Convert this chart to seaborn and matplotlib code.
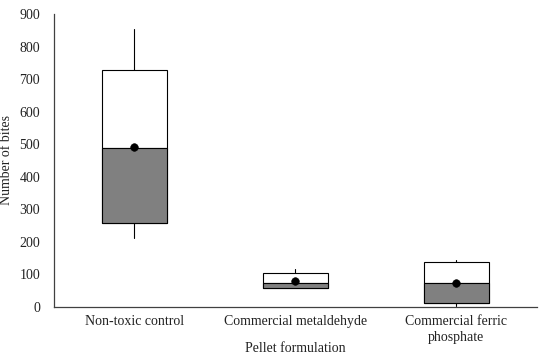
import matplotlib
matplotlib.use("Agg")
import matplotlib.pyplot as plt
import seaborn as sns
import pandas as pd

# values
categories = ["Non-toxic control", "Commercial metaldehyde", "Commercial ferric\nphosphate"]
whisker_low = [211, 57, 3]
q1 = [257, 59, 11]
median = [488, 73, 73]
q3 = [728, 103, 138]
whisker_high = [853, 116, 144]
means = [491, 79, 75]

sns.set_theme(style="white")
plt.rcParams["font.family"] = ["Liberation Serif", "DejaVu Serif"]

fig = plt.figure(figsize=(5.5, 3.58), dpi=100)
ax = fig.add_axes([0.098, 0.1425, 0.878, 0.8185])

stats = []
for i, name in enumerate(categories):
    stats.append({
        "label": name, "whislo": whisker_low[i], "q1": q1[i], "med": median[i],
        "q3": q3[i], "whishi": whisker_high[i], "fliers": [],
    })

pos = list(range(len(categories)))
ax.bxp(stats, positions=pos, widths=0.4, showcaps=False, patch_artist=True,
       boxprops={"facecolor": "white", "edgecolor": "black", "linewidth": 0.8},
       whiskerprops={"color": "black", "linewidth": 0.8},
       medianprops={"color": "black", "linewidth": 0.8})

# grey lower half of each box (Q1 to median)
ax.bar(pos, [m - q for m, q in zip(median, q1)], bottom=q1, width=0.4,
       color="#808080", edgecolor="black", linewidth=0.8, zorder=3)

df = pd.DataFrame({"x": pos, "mean": means})
sns.scatterplot(data=df, x="x", y="mean", color="black", s=30, zorder=5,
                edgecolor="black", ax=ax, legend=False)

ax.set_xlim(-0.5, 2.5)
ax.set_ylim(0, 900)
ax.set_yticks(range(0, 901, 100))
ax.set_xticks(pos)
ax.set_xticklabels(categories, linespacing=1.25)
ax.tick_params(axis="both", length=0, labelsize=10, colors="#222222")
ax.tick_params(axis="y", pad=10)
ax.tick_params(axis="x", pad=6)
for s in ["top", "right"]:
    ax.spines[s].set_visible(False)
for s in ["left", "bottom"]:
    ax.spines[s].set_color("#404040")
    ax.spines[s].set_linewidth(0.9)

ax.set_ylabel("Number of bites", fontsize=10, color="#222222")
ax.yaxis.set_label_coords(-0.085, 0.5)
ax.set_xlabel("Pellet formulation", fontsize=10, color="#222222", va="center")
ax.xaxis.set_label_coords(0.5, -0.143)

fig.savefig("out.png", dpi=100)
